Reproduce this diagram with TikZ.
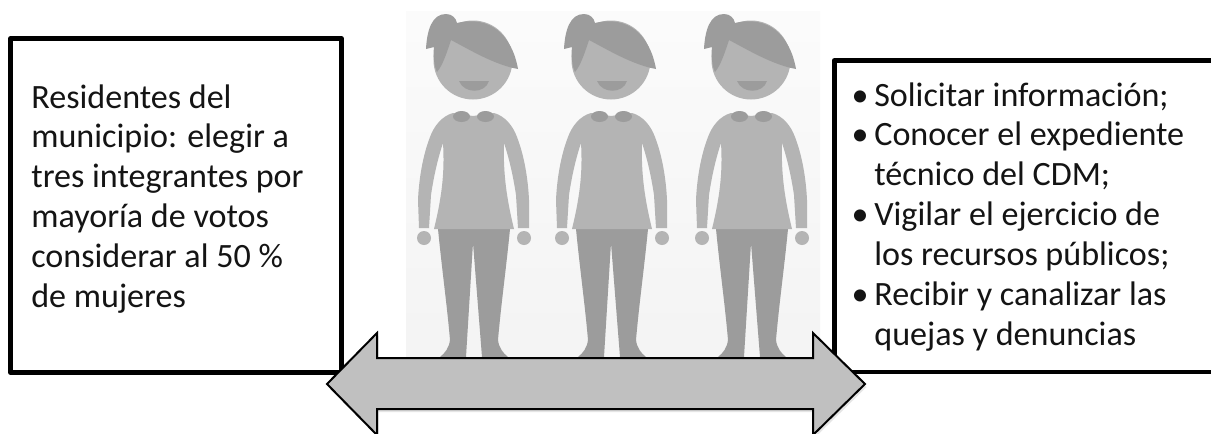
\documentclass[tikz,border=0pt]{standalone}
\usepackage{fontspec}
\setmainfont{Carlito}
\usepackage{tikz}
\usetikzlibrary{positioning}
\definecolor{hairgray}{HTML}{9C9C9C}
\definecolor{bodygray}{HTML}{B4B4B4}
\definecolor{arrowgray}{HTML}{C0C0C0}

\begin{document}
\begin{tikzpicture}[
  x=0.02cm, y=-0.02cm,
  framebox/.style={rectangle, draw=black, fill=white, line width=0.094cm, line join=round, inner sep=0pt},
  txt/.style={anchor=north west, align=left, inner sep=0pt, font=\fontsize{19.4}{22.7}\selectfont, text=black!92},
  hair/.style={fill=hairgray},
  body/.style={fill=bodygray}
]
\path[use as bounding box, clip] (0,0) rectangle (1211,433);
\fill[white] (0,0) rectangle (1211,433);

% middle: photo with the three women
\shade[top color=black!1.5, bottom color=black!4.5] (406,11) rectangle (820,357);

\foreach \fx in {0,138,278} {
\begin{scope}[shift={(\fx,0)}]
  % head
  \fill[body] (473,60) circle (39.5);
  \fill[hair] (426,49) .. controls (427,30) and (432,14) .. (446,14)
    .. controls (452,14) and (456,18) .. (457,23)
    .. controls (490,15) and (512,35) .. (518,69)
    .. controls (495,65) and (470,50) .. (451,40)
    .. controls (447,52) and (443,65) .. (437,72)
    .. controls (434,66) and (433,55) .. (434,47) -- cycle;
  \fill[hair] (459,81) -- (489,81) .. controls (485,94) and (464,94) .. (459,81) -- cycle;
  % legs
  \fill[hair] (438,229) -- (510,229) .. controls (506,270) and (501,305) .. (498,340)
    .. controls (499,348) and (503,353) .. (508,357) -- (482,357) -- (473,243) -- (466,357) -- (440,357)
    .. controls (445,353) and (449,348) .. (450,340) .. controls (447,305) and (442,270) .. (438,229) -- cycle;
  % shirt and arms
  \fill[body] (453,113) .. controls (442,116) and (434,126) .. (430,137)
    .. controls (423,155) and (419,178) .. (418,200) -- (419,228) -- (429,228) -- (431,195)
    .. controls (434,175) and (438,158) .. (443,143) .. controls (445,175) and (441,200) .. (434,229)
    -- (514,229) .. controls (507,200) and (503,175) .. (504,143)
    .. controls (509,158) and (513,175) .. (516,195) -- (518,228) -- (529,228) -- (529,200)
    .. controls (528,178) and (524,155) .. (517,137) .. controls (513,126) and (505,116) .. (494,113)
    -- (473,116) -- cycle;
  \fill[hair] (461.5,116.5) ellipse (8.5 and 5.5);
  \fill[hair] (485.5,116.5) ellipse (8.5 and 5.5);
  % hands
  \fill[body] (424,238) circle (7);
  \fill[body] (524,238) circle (7);
\end{scope}
}

% left box
\node[framebox, minimum width=6.62cm, minimum height=6.68cm] (leftbox) at (176,205.5) {};
\node[txt] (lefttxt) at (31,84) {Residentes del\\municipio: elegir a\\tres integrantes por\\mayoría de votos\\considerar al 50 \%\\de mujeres};

% right box, runs off the page
\node[framebox, minimum width=7.91cm, minimum height=6.23cm] (rightbox) at (1032,216.25) {};
\node[txt] (righttxt) at (874,82) {\llap{\textbullet\,}Solicitar información;\\\llap{\textbullet\,}Conocer el expediente\\técnico del CDM;\\\llap{\textbullet\,}Vigilar el ejercicio de\\los recursos públicos;\\\llap{\textbullet\,}Recibir y canalizar las\\quejas y denuncias};

% double arrow
\fill[black!10, shift={(1.5,3)}] (327,384) -- (377,333) -- (377,358) -- (813,358) -- (813,333) -- (865,384)
  -- (813,435) -- (813,409) -- (377,409) -- (377,435) -- cycle;
\draw[fill=arrowgray, line width=0.04cm, line join=miter] (327,384) -- (377,333) -- (377,358) -- (813,358) -- (813,333) -- (865,384)
  -- (813,435) -- (813,409) -- (377,409) -- (377,435) -- cycle;

\end{tikzpicture}
\end{document}
